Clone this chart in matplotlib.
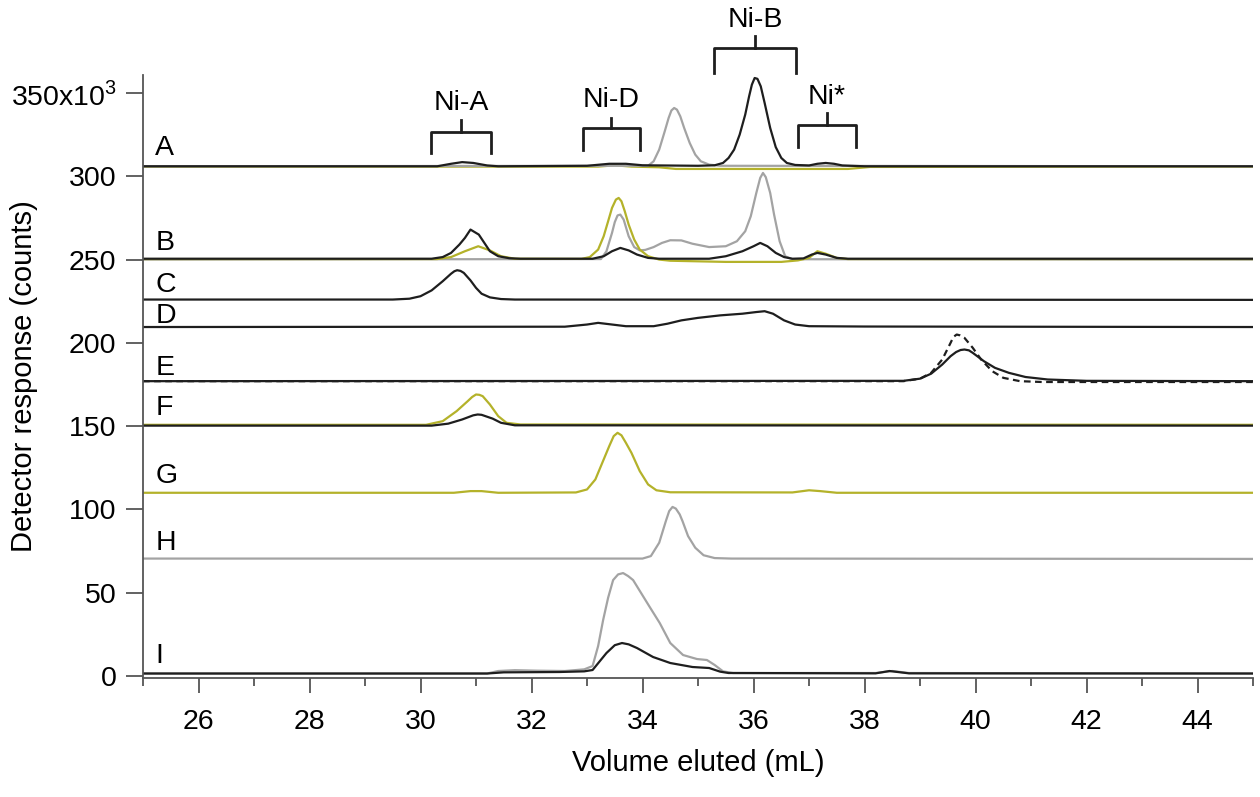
import matplotlib
matplotlib.use("Agg")
import matplotlib.pyplot as plt
from matplotlib.ticker import MultipleLocator

plt.rcParams["font.family"] = ["Liberation Sans", "DejaVu Sans"]
plt.rcParams["mathtext.fontset"] = "custom"
plt.rcParams["mathtext.rm"] = "Liberation Sans"

# colours of the three sample types
BLACK = "#1e1e1e"
GRAY = "#a3a3a3"
OLIVE = "#b4b22a"

# volume (mL) / response (x10^3 counts)
# --- trace A ---
a_black_x = [25, 30.3, 30.55, 30.75, 30.95, 31.2, 31.4, 33.0, 33.4, 33.7, 34.0, 35.0, 35.3, 35.45, 35.55,
             35.65, 35.75, 35.85, 35.92, 35.97, 36.02, 36.07, 36.13, 36.2, 36.3, 36.4, 36.5, 36.6,
             36.75, 37.0, 37.15, 37.3, 37.45, 37.6, 38.0, 45]
a_black_y = [306, 306, 307.5, 308.5, 308, 306.5, 306, 306.3, 307.5, 307.5, 306.6, 306.3, 306.6, 308, 311,
             316, 325, 337, 348, 355, 359, 358.5, 354, 344, 329, 317.5, 311, 308,
             306.8, 306.5, 307.5, 308, 307.5, 306.5, 306, 306]
a_gray_x = [25, 34.1, 34.2, 34.3, 34.4, 34.47, 34.52, 34.57, 34.62, 34.68, 34.75, 34.85, 34.95, 35.05,
            35.2, 35.4, 45]
a_gray_y = [306, 306.3, 309, 316, 327, 335, 339.5, 341, 340, 336, 329, 320, 313, 309,
            307, 306.3, 306]
a_olive_x = [25, 33.2, 33.5, 33.8, 34.3, 34.6, 37.7, 38.1, 45]
a_olive_y = [305.8, 305.8, 306.6, 305.8, 305.4, 304.4, 304.4, 305.6, 305.8]

# --- trace B ---
b_black_x = [25, 30.2, 30.4, 30.55, 30.7, 30.8, 30.9, 30.95, 31.05, 31.15, 31.25, 31.4, 31.6, 31.8,
             33.1, 33.3, 33.45, 33.6, 33.75, 33.9, 34.1, 34.3, 35.2, 35.5, 35.8, 36.0, 36.12, 36.25,
             36.4, 36.55, 36.7, 36.9, 37.05, 37.15, 37.3, 37.5, 37.7, 45]
b_black_y = [250.5, 250.5, 251.5, 254, 259, 263, 268, 267, 265, 260, 255, 252, 250.8, 250.5,
             250.5, 252, 255, 257, 255.5, 253, 251, 250.5, 250.5, 252, 255, 258, 260, 258,
             254, 251.5, 250.5, 250.7, 253, 254, 253, 251, 250.5, 250.5]
b_gray_x = [25, 33.25, 33.35, 33.45, 33.5, 33.55, 33.6, 33.66, 33.75, 33.85, 33.95, 34.05, 34.2, 34.35,
            34.5, 34.7, 34.9, 35.2, 35.5, 35.7, 35.85, 35.95, 36.05, 36.12, 36.17, 36.22, 36.3, 36.37,
            36.47, 36.57, 36.7, 45]
b_gray_y = [250, 250.3, 255, 266, 272.5, 276.5, 277, 274, 264, 257.5, 255.5, 255.8, 257.5, 260,
            261.6, 261.5, 259.5, 257.5, 258, 261, 267, 276, 290, 299, 302, 299.5, 290, 277,
            261, 252, 250.2, 250]
b_olive_x = [25, 30.3, 30.55, 30.8, 31.04, 31.25, 31.45, 31.7, 32.9, 33.05, 33.2, 33.3, 33.38, 33.45,
             33.52, 33.57, 33.62, 33.68, 33.75, 33.85, 33.95, 34.1, 34.3, 34.5, 35.5, 36.5, 36.8,
             37.0, 37.15, 37.3, 37.5, 37.7, 45]
b_olive_y = [250.3, 250.3, 251.5, 255, 258, 255.5, 252, 250.5, 250.4, 251.5, 256, 264, 273, 281,
             286, 287, 285, 279, 271, 262, 256, 252, 250, 249.3, 248.6, 248.6, 249.5,
             251, 255, 253.5, 251, 250.3, 250.3]

# --- trace C ---
c_x = [25, 29.5, 29.8, 30.0, 30.2, 30.4, 30.55, 30.61, 30.66, 30.72, 30.78, 30.9, 31.0, 31.1, 31.25,
       31.45, 31.7, 45]
c_y = [226, 226, 226.5, 228, 231.5, 237, 241.5, 243, 243.6, 243.2, 242, 237.5, 233, 229.5, 227.3,
       226.3, 226, 225.8]

# --- trace D ---
d_x = [25, 32.6, 33.0, 33.2, 33.45, 33.7, 34.2, 34.45, 34.7, 35.0, 35.4, 35.8, 36.05, 36.2, 36.35,
       36.55, 36.75, 37.0, 38.0, 45]
d_y = [209.5, 209.7, 211, 212, 211, 210, 210, 211.5, 213.5, 215, 216.5, 217.5, 218.5, 219, 217.5,
       213.5, 211, 210, 209.8, 209.5]

# --- trace E (solid and dashed) ---
e_solid_x = [25, 38.7, 39.0, 39.2, 39.4, 39.55, 39.65, 39.73, 39.8, 39.88, 39.95, 40.15, 40.35, 40.6,
             40.9, 41.3, 42.0, 45]
e_solid_y = [177, 177.2, 178.5, 181.5, 187, 192, 194.5, 195.7, 196, 195.5, 194, 189, 185, 182,
             179.5, 178, 177.2, 177]
e_dash_x = [25, 38.7, 39.0, 39.2, 39.4, 39.55, 39.6, 39.66, 39.72, 39.8, 39.95, 40.1, 40.3, 40.5,
            40.8, 41.2, 45]
e_dash_y = [177, 177, 178.5, 182, 190, 200, 203.5, 205, 204.5, 203, 197, 190, 183, 179,
            177, 176.5, 176.5]

# --- trace F ---
f_black_x = [25, 30.2, 30.5, 30.75, 30.95, 31.03, 31.1, 31.3, 31.45, 31.7, 45]
f_black_y = [150.3, 150.3, 151.5, 154, 156.5, 157, 156.8, 154.5, 152, 150.5, 150.3]
f_olive_x = [25, 30.1, 30.4, 30.65, 30.85, 30.93, 31.0, 31.06, 31.12, 31.25, 31.4, 31.55, 31.8, 45]
f_olive_y = [150.8, 150.8, 153, 159, 165, 167.5, 169, 168.8, 168, 163, 156, 152, 151, 150.8]

# --- trace G ---
g_x = [25, 30.6, 30.9, 31.1, 31.4, 32.8, 33.0, 33.15, 33.3, 33.4, 33.48, 33.55, 33.62, 33.7, 33.8,
       33.95, 34.1, 34.25, 34.5, 36.7, 37.0, 37.2, 37.5, 45]
g_y = [110, 110, 111, 111, 110, 110.2, 112, 118, 130, 138, 144, 146, 144.5, 140, 134,
       123, 115, 111.5, 110.3, 110.2, 111.5, 111, 110, 110]

# --- trace H ---
h_x = [25, 34.0, 34.15, 34.3, 34.42, 34.48, 34.54, 34.6, 34.67, 34.72, 34.82, 34.95, 35.1, 35.3,
       35.6, 45]
h_y = [70.5, 70.5, 72, 80, 93, 99, 101.5, 100.5, 97, 93, 84, 77, 72.5, 70.8,
       70.5, 70.3]

# --- trace I ---
i_gray_x = [25, 31.2, 31.4, 31.7, 32.1, 32.6, 32.95, 33.1, 33.2, 33.29, 33.38, 33.47, 33.56, 33.65,
            33.74, 33.83, 34.13, 34.31, 34.5, 34.73, 34.98, 35.16, 35.3, 35.45, 35.63, 38.2, 38.5,
            38.8, 45]
i_gray_y = [1.5, 1.5, 3, 3.5, 3.2, 3, 4, 6, 18, 33.6, 47, 57.6, 61, 61.8,
            60, 57.6, 41.4, 31.8, 19.8, 12.6, 10.2, 9.6, 6.6, 2.8, 1.8, 1.8, 3,
            1.8, 1.5]
i_black_x = [25, 31.2, 31.5, 32.5, 32.95, 33.1, 33.35, 33.5, 33.63, 33.75, 33.9, 34.19, 34.5, 34.9,
             35.2, 35.4, 35.55, 38.2, 38.45, 38.8, 45]
i_black_y = [1.5, 1.5, 2.2, 2.4, 2.8, 3.6, 13.8, 18.5, 19.8, 19, 16.8, 11.4, 7.8, 5.4,
             4.8, 2.6, 1.8, 1.6, 3.0, 1.6, 1.5]

trace_labels = ["A", "B", "C", "D", "E", "F", "G", "H", "I"]
label_y = [317, 260, 235, 216, 185, 161, 120, 80, 12]

# fraction brackets: name, left, right, horizontal bar, leg bottom, tick top, text y
bracket_names = ["Ni-A", "Ni-D", "Ni-B", "Ni*"]
bracket_left = [30.19, 32.93, 35.29, 36.8]
bracket_right = [31.27, 33.95, 36.77, 37.85]
bracket_bar = [326.4, 328.8, 376.8, 331]
bracket_foot = [313.8, 316, 361.8, 317.4]
bracket_top = [333.6, 334.8, 384, 337.8]
bracket_text = [343.8, 345.6, 393.6, 347.4]

FS = 20.5

fig = plt.figure(figsize=(12.6, 7.97), dpi=100)
ax = fig.add_axes([0.1135, 0.1493, 0.881, 0.7566])

lw = 1.6
ax.plot(a_olive_x, a_olive_y, color=OLIVE, lw=lw)
ax.plot(a_gray_x, a_gray_y, color=GRAY, lw=lw)
ax.plot(a_black_x, a_black_y, color=BLACK, lw=lw)

ax.plot(b_gray_x, b_gray_y, color=GRAY, lw=lw)
ax.plot(b_olive_x, b_olive_y, color=OLIVE, lw=lw)
ax.plot(b_black_x, b_black_y, color=BLACK, lw=lw)

ax.plot(c_x, c_y, color=BLACK, lw=lw)
ax.plot(d_x, d_y, color=BLACK, lw=lw)
ax.plot(e_dash_x, e_dash_y, color=BLACK, lw=lw, ls=(0, (3, 2)))
ax.plot(e_solid_x, e_solid_y, color=BLACK, lw=lw)
ax.plot(f_olive_x, f_olive_y, color=OLIVE, lw=lw)
ax.plot(f_black_x, f_black_y, color=BLACK, lw=lw)
ax.plot(g_x, g_y, color=OLIVE, lw=lw)
ax.plot(h_x, h_y, color=GRAY, lw=lw)
ax.plot(i_gray_x, i_gray_y, color=GRAY, lw=lw)
ax.plot(i_black_x, i_black_y, color=BLACK, lw=lw)

for lab, yy in zip(trace_labels, label_y):
    ax.text(25.22, yy, lab, fontsize=FS, ha="left", va="center")

for name, l, r, bar, foot, top, ty in zip(bracket_names, bracket_left, bracket_right,
                                          bracket_bar, bracket_foot, bracket_top, bracket_text):
    mid = (l + r) / 2
    ax.plot([l, l, r, r], [foot, bar, bar, foot], color=BLACK, lw=2, clip_on=False)
    ax.plot([mid, mid], [bar, top], color=BLACK, lw=2, clip_on=False)
    ax.text(mid, ty, name, fontsize=FS, ha="center", va="center", clip_on=False)

ax.set_xlim(25, 45)
ax.set_ylim(-1.2, 360.8)
ax.xaxis.set_major_locator(MultipleLocator(2))
ax.xaxis.set_minor_locator(MultipleLocator(1))
ax.set_yticks([0, 50, 100, 150, 200, 250, 300, 350])
ax.set_yticklabels(["0", "50", "100", "150", "200", "250", "300", "350x10$^{3}$"])

for side in ["top", "right"]:
    ax.spines[side].set_visible(False)
for side in ["left", "bottom"]:
    ax.spines[side].set_color("#555555")
    ax.spines[side].set_linewidth(1.3)

ax.tick_params(axis="both", which="major", labelsize=FS, color="#555555", width=1.3)
ax.tick_params(axis="x", which="major", length=11, pad=11)
ax.tick_params(axis="x", which="minor", length=6, color="#555555", width=1.3)
ax.tick_params(axis="y", which="major", length=12, pad=7)

ax.set_xlabel("Volume eluted (mL)", fontsize=21)
ax.set_ylabel("Detector response (counts)", fontsize=21)
ax.xaxis.set_label_coords(0.5, -0.117)
ax.yaxis.set_label_coords(-0.095, 0.5)

fig.savefig("out.png", dpi=100)
